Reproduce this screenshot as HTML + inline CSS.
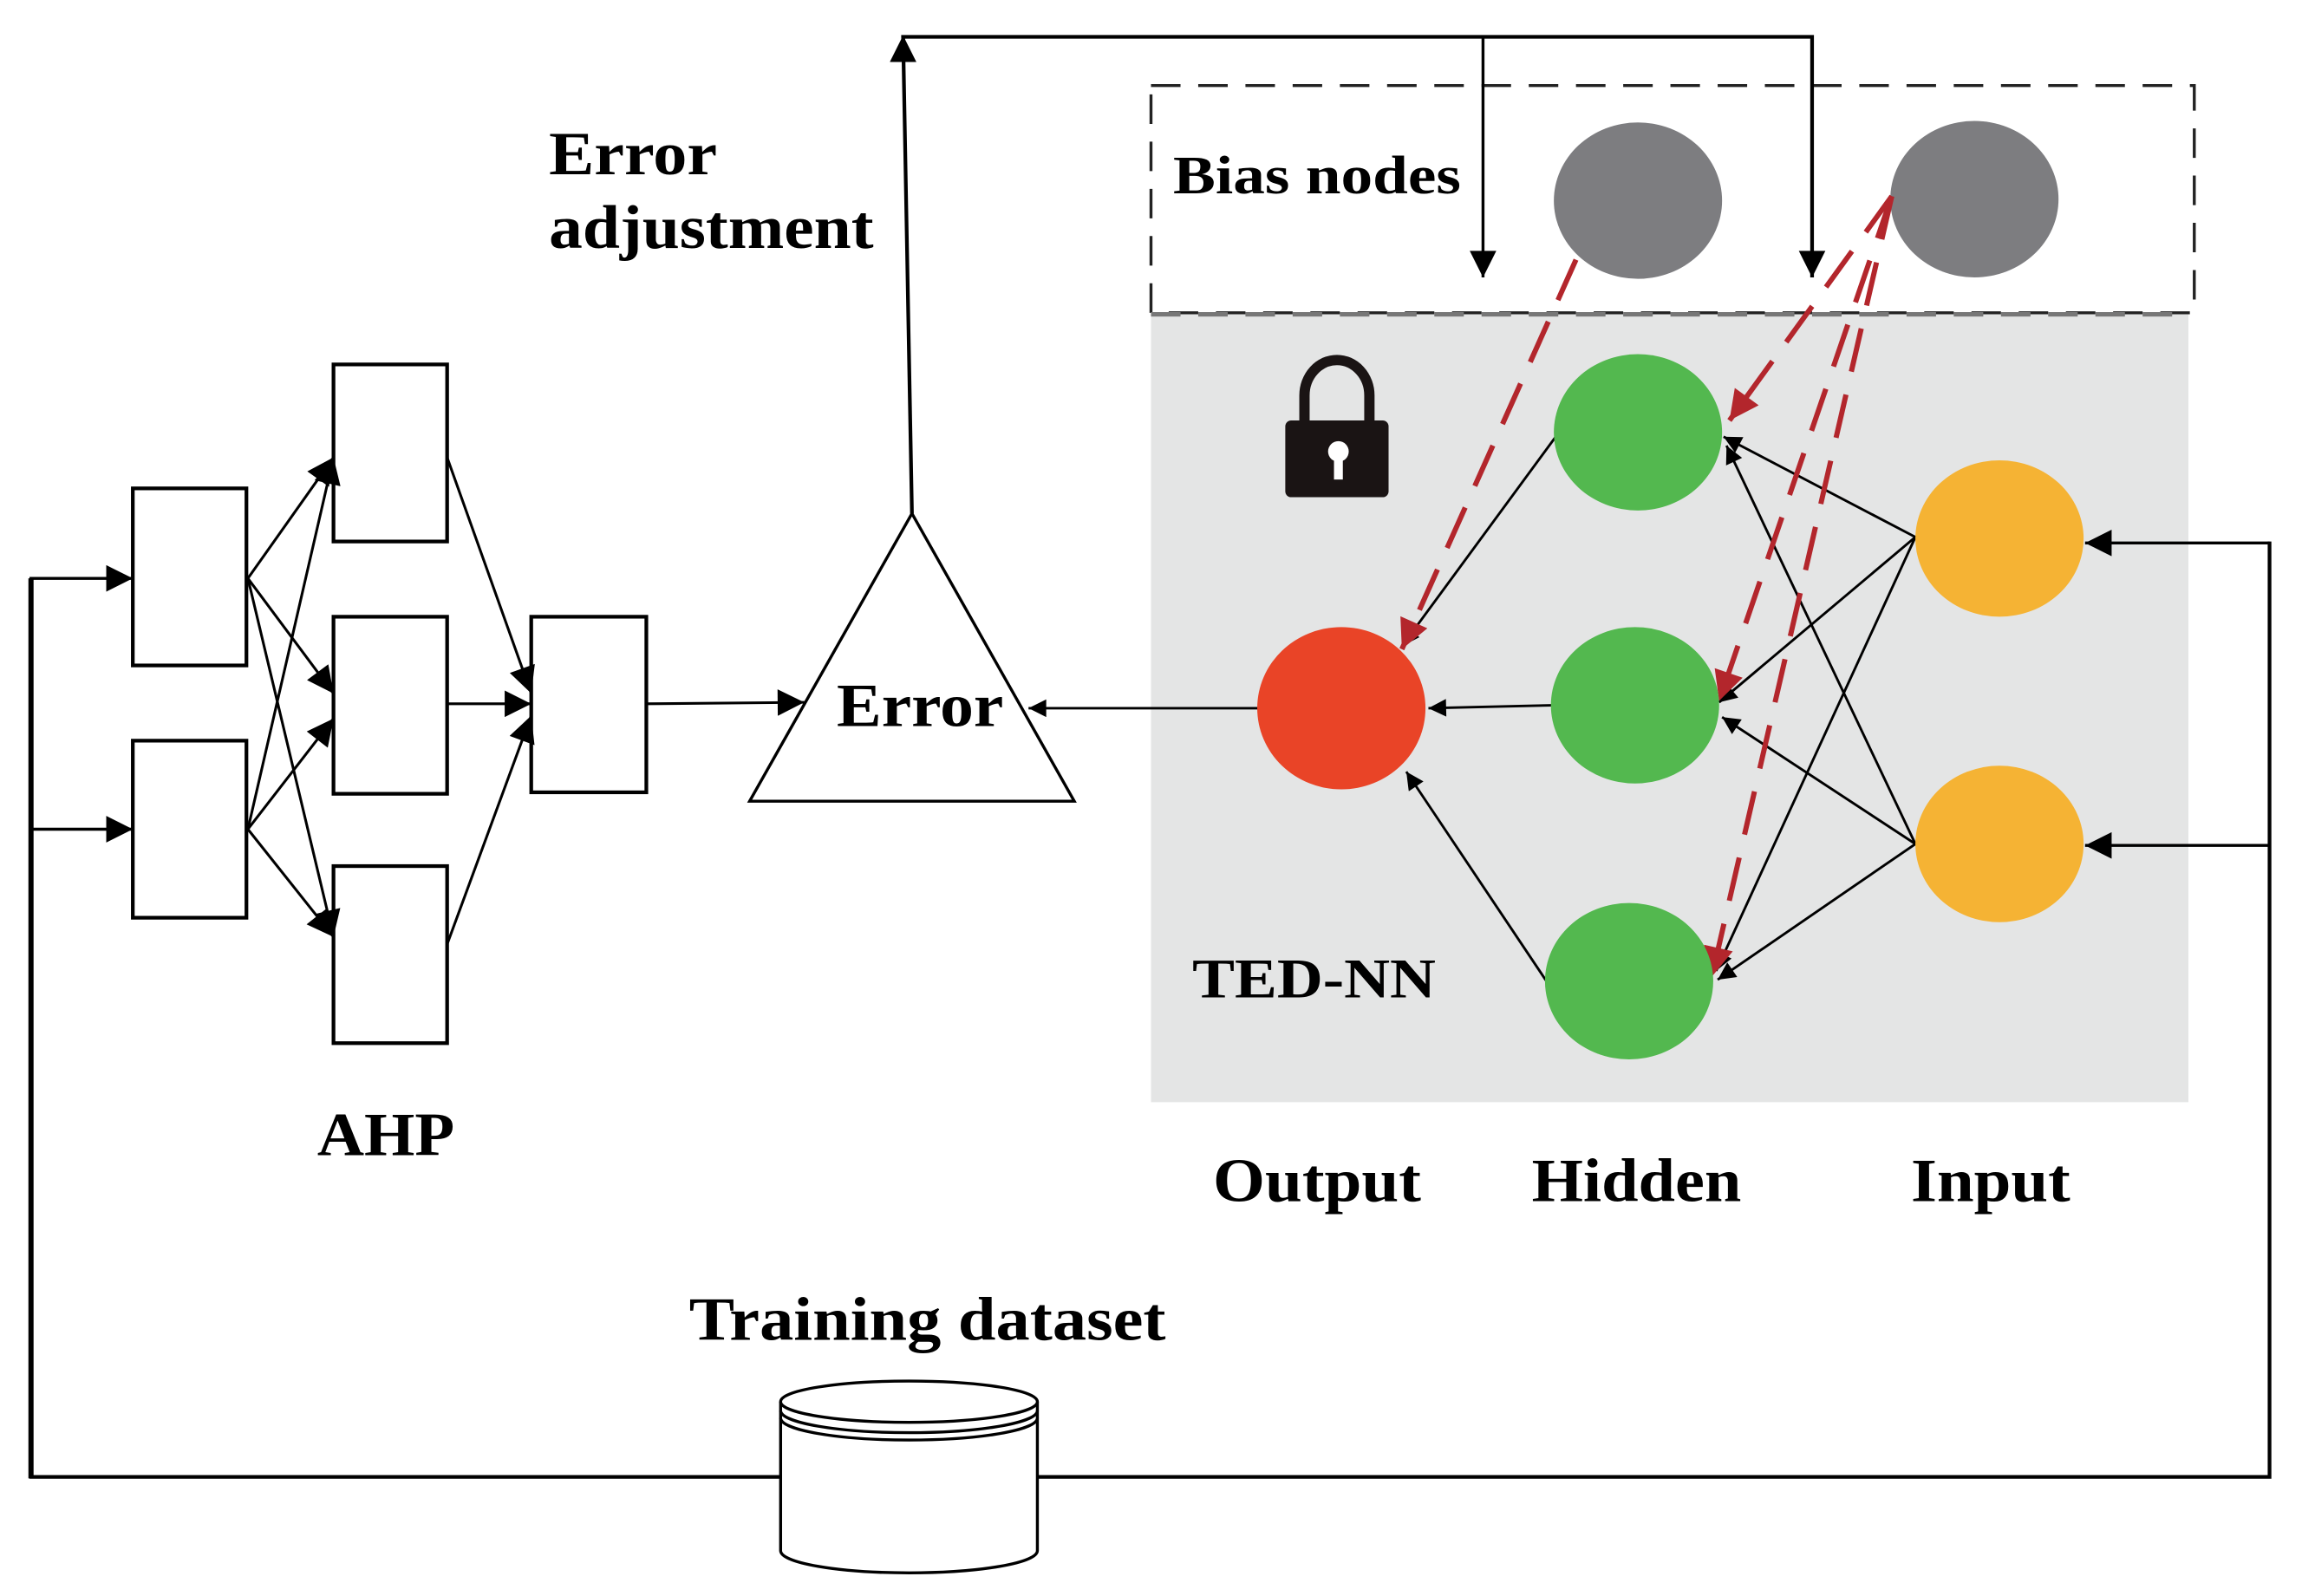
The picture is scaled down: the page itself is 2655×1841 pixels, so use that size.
<!DOCTYPE html>
<html><head><style>html,body{margin:0;padding:0;background:#fff;}svg{display:block;}</style></head>
<body>
<svg width="2655" height="1841" viewBox="0 0 1560 1081.7" preserveAspectRatio="none" xmlns="http://www.w3.org/2000/svg">
<defs>
<marker id="a" viewBox="0 0 10 10" refX="10" refY="5" markerWidth="14" markerHeight="12" markerUnits="userSpaceOnUse" orient="auto"><path d="M0,0L10,5L0,10z" fill="#000"/></marker>
<marker id="ab" viewBox="0 0 10 10" refX="10" refY="5" markerWidth="24" markerHeight="18" markerUnits="userSpaceOnUse" orient="auto"><path d="M0,0L10,5L0,10z" fill="#000"/></marker>
<marker id="r" viewBox="0 0 10 10" refX="10" refY="5" markerWidth="26" markerHeight="20" markerUnits="userSpaceOnUse" orient="auto"><path d="M0,0L10,5L0,10z" fill="#b3262c"/></marker>
</defs>
<g font-family="Liberation Serif, serif" font-weight="bold" fill="#000">
<rect x="780" y="212" width="703" height="535" fill="#e4e5e5"/>
<rect x="780" y="58" width="707" height="154" fill="none" stroke="#222" stroke-width="2" stroke-dasharray="20,12"/>
<line x1="780" y1="213" x2="1483" y2="213" stroke="#777" stroke-width="3" stroke-dasharray="20,12"/>
<text x="795" y="131" font-size="37" textLength="195" lengthAdjust="spacingAndGlyphs">Bias nodes</text>
<polyline points="618,348 612,25 1228,25 1228,188" fill="none" stroke="#000" stroke-width="2.5" marker-end="url(#ab)"/>
<line x1="612" y1="40" x2="612" y2="24" stroke="#000" stroke-width="2.5" marker-end="url(#ab)"/>
<line x1="1005" y1="25" x2="1005" y2="188" stroke="#000" stroke-width="2" marker-end="url(#ab)"/>
<ellipse cx="1110" cy="136" rx="57" ry="53" fill="#7d7d80"/>
<ellipse cx="1338" cy="135" rx="57" ry="53" fill="#7d7d80"/>
<path d="M884,287 V268 A22,24 0 0 1 928,268 V287" fill="none" stroke="#1a1414" stroke-width="7"/>
<rect x="871" y="285" width="70" height="52" rx="4" fill="#1a1414"/>
<circle cx="907" cy="306" r="7" fill="#fff"/>
<rect x="904" y="306" width="6" height="19" fill="#fff"/>
<g stroke="#000" stroke-width="1.7" fill="none" marker-end="url(#a)">
<line x1="1055" y1="295" x2="950" y2="438"/>
<line x1="1052" y1="478" x2="968" y2="480"/>
<line x1="1048" y1="665" x2="953" y2="523"/>
<line x1="1298" y1="364" x2="1168" y2="296"/>
<line x1="1298" y1="364" x2="1165" y2="476"/>
<line x1="1298" y1="364" x2="1163" y2="658"/>
<line x1="1298" y1="572" x2="1170" y2="302"/>
<line x1="1298" y1="572" x2="1167" y2="486"/>
<line x1="1298" y1="572" x2="1164" y2="664"/>
<line x1="853" y1="480" x2="697" y2="480"/>
</g>
<g stroke="#b3262c" stroke-width="3.5" fill="none" stroke-dasharray="30,16" marker-end="url(#r)">
<line x1="1068" y1="176" x2="950" y2="440"/>
<line x1="1282" y1="133" x2="1172" y2="285"/>
<line x1="1282" y1="133" x2="1165" y2="475"/>
<line x1="1282" y1="133" x2="1160" y2="662"/>
</g>
<ellipse cx="909" cy="480" rx="57" ry="55" fill="#e94427"/>
<ellipse cx="1110" cy="293" rx="57" ry="53" fill="#53b84f"/>
<ellipse cx="1108" cy="478" rx="57" ry="53" fill="#53b84f"/>
<ellipse cx="1104" cy="665" rx="57" ry="53" fill="#53b84f"/>
<ellipse cx="1355" cy="365" rx="57" ry="53" fill="#f5b334"/>
<ellipse cx="1355" cy="572" rx="57" ry="53" fill="#f5b334"/>
<text x="808" y="676" font-size="38" textLength="165" lengthAdjust="spacingAndGlyphs">TED-NN</text>
<text x="822" y="814" font-size="42" textLength="141" lengthAdjust="spacingAndGlyphs">Output</text>
<text x="1038" y="814" font-size="42" textLength="142" lengthAdjust="spacingAndGlyphs">Hidden</text>
<text x="1295" y="814" font-size="42" textLength="108" lengthAdjust="spacingAndGlyphs">Input</text>
<polyline points="20,1001 1538,1001 1538,367" fill="none" stroke="#000" stroke-width="2.5"/>
<line x1="1538" y1="368" x2="1413" y2="368" stroke="#000" stroke-width="2" marker-end="url(#ab)"/>
<line x1="1538" y1="573" x2="1413" y2="573" stroke="#000" stroke-width="2" marker-end="url(#ab)"/>
<line x1="21" y1="1002" x2="21" y2="392" stroke="#000" stroke-width="3.5"/>
<line x1="20" y1="392" x2="90" y2="392" stroke="#000" stroke-width="2" marker-end="url(#ab)"/>
<line x1="20" y1="562" x2="90" y2="562" stroke="#000" stroke-width="2" marker-end="url(#ab)"/>
<g fill="#fff" stroke="#000" stroke-width="2.5">
<rect x="90" y="331" width="77" height="120"/>
<rect x="90" y="502" width="77" height="120"/>
<rect x="226" y="247" width="77" height="120"/>
<rect x="226" y="418" width="77" height="120"/>
<rect x="226" y="587" width="77" height="120"/>
<rect x="360" y="418" width="78" height="119"/>
</g>
<g stroke="#000" stroke-width="1.8" fill="none" marker-end="url(#ab)">
<line x1="168" y1="392" x2="226" y2="310"/>
<line x1="168" y1="392" x2="226" y2="470"/>
<line x1="168" y1="392" x2="226" y2="635"/>
<line x1="168" y1="562" x2="226" y2="310"/>
<line x1="168" y1="562" x2="226" y2="487"/>
<line x1="168" y1="562" x2="226" y2="635"/>
<line x1="303" y1="310" x2="360" y2="470"/>
<line x1="303" y1="477" x2="360" y2="477"/>
<line x1="303" y1="640" x2="360" y2="485"/>
<line x1="438" y1="477" x2="545" y2="476"/>
</g>
<text x="215" y="783" font-size="42" textLength="93" lengthAdjust="spacingAndGlyphs">AHP</text>
<polygon points="618,348 508,543 728,543" fill="#fff" stroke="#000" stroke-width="2"/>
<text x="567" y="492" font-size="42" textLength="113" lengthAdjust="spacingAndGlyphs">Error</text>
<text x="372" y="118" font-size="42" textLength="114" lengthAdjust="spacingAndGlyphs">Error</text>
<text x="372" y="168" font-size="42" textLength="220" lengthAdjust="spacingAndGlyphs">adjustment</text>
<g fill="#fff" stroke="#000" stroke-width="2">
<path d="M529,950 V1051 A87,15 0 0 0 703,1051 V950"/>
<path d="M529,956 A87,15 0 0 0 703,956" fill="none"/>
<path d="M529,961 A87,15 0 0 0 703,961" fill="none"/>
<ellipse cx="616" cy="950" rx="87" ry="14"/>
</g>
<text x="467" y="908" font-size="42" textLength="323" lengthAdjust="spacingAndGlyphs">Training dataset</text>
</g>
</svg>
</body></html>
